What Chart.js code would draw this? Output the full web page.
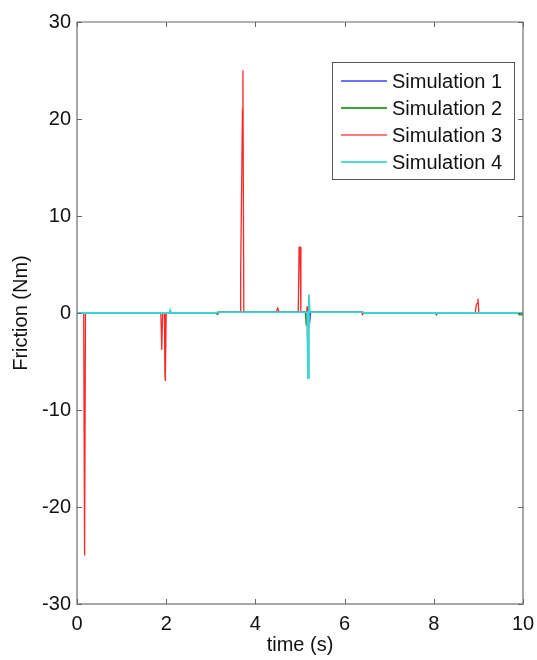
<!DOCTYPE html>
<html>
<head>
<meta charset="utf-8">
<script src="https://cdn.jsdelivr.net/npm/chart.js@4.4.0/dist/chart.umd.min.js"></script>
<style>
  html, body { margin: 0; padding: 0; background: #fff; }
  #wrap { width: 537px; height: 660px; position: relative; }
</style>
</head>
<body>
<div id="wrap"><canvas id="chart"></canvas></div>
<script>
// axis ticks
const xTicks = [0, 2, 4, 6, 8, 10];
const yTicks = [-30, -20, -10, 0, 10, 20, 30];

const seriesNames = ['Simulation 1', 'Simulation 2', 'Simulation 3', 'Simulation 4'];
const seriesColors = ['rgb(60,60,255)', 'rgb(20,140,20)', 'rgb(255,40,40)', 'rgb(60,212,212)'];
const legendColors = ['rgb(110,110,255)', 'rgb(60,160,60)', 'rgb(255,120,120)', 'rgb(80,220,220)'];

// Simulation 1 (blue)
const time1 = [0, 3.1, 3.2, 5.2, 5.22, 5.24, 6.4, 6.45, 10];
const friction1 = [0, 0, 0.1, 0.1, -0.8, 0.1, 0.1, 0, 0];

// Simulation 2 (green)
const time2 = [0, 3.1, 3.15, 3.2, 5.12, 5.14, 5.16, 6.4, 6.45, 8.03, 8.06, 8.09, 9.88, 9.92, 10];
const friction2 = [0, 0, -0.15, 0.1, 0.1, -1.3, 0.1, 0.1, 0, 0, -0.2, 0, 0, -0.2, -0.2];

// Simulation 3 (red)
const time3 = [0, 0.15, 0.17, 0.19, 1.88, 1.9, 1.92, 1.96, 1.97, 1.98, 2.0, 3.1, 3.2,
  3.66, 3.67, 3.69, 3.71, 3.72, 3.74, 4.47, 4.5, 4.53, 4.96, 4.98, 5.0, 5.02,
  5.15, 5.16, 5.17, 5.18, 6.38, 6.4, 6.42, 8.93, 8.95, 8.97, 8.99, 9.01, 10];
const friction3 = [0, 0, -25, 0, 0, -3.8, 0, 0, -6, -7, 0, 0, 0.1,
  0.1, 4.3, 12.5, 21, 25, 0.1, 0.1, 0.5, 0.1, 0.1, 6.8, 6.8, 0.1,
  0.1, 0.7, -2.8, 0.1, 0.1, -0.15, 0, 0, 0.8, 1.0, 1.5, 0, 0];

// Simulation 4 (cyan)
const time4 = [0, 2.07, 2.09, 2.11, 3.1, 3.2, 5.16, 5.18, 5.2, 5.22, 6.4, 6.45, 10];
const friction4 = [0, 0, 0.3, 0, 0, 0.1, 0.1, -6.7, 1.9, 0.1, 0.1, 0, 0];

const times = [time1, time2, time3, time4];
const values = [friction1, friction2, friction3, friction4];

const font = { family: '"Liberation Sans", Arial, sans-serif', size: 20 };

// box around the plot with inward ticks on all four sides
const frame = {
  id: 'frame',
  afterDatasetsDraw(chart) {
    const { ctx, chartArea: a, scales } = chart;
    const t = 5;
    ctx.save();
    ctx.lineWidth = 1.5;
    ctx.strokeStyle = '#8a8a8a';
    ctx.beginPath();
    ctx.moveTo(a.left, a.top); ctx.lineTo(a.left, a.bottom); ctx.lineTo(a.right, a.bottom); ctx.lineTo(a.right, a.top);
    ctx.stroke();
    ctx.strokeStyle = '#666';
    ctx.lineWidth = 1.2;
    ctx.beginPath();
    ctx.moveTo(a.left, a.top); ctx.lineTo(a.right, a.top);
    ctx.stroke();
    ctx.strokeStyle = '#666';
    ctx.lineWidth = 1;
    ctx.beginPath();
    xTicks.forEach(v => {
      const px = Math.round(scales.x.getPixelForValue(v)) + 0.5;
      ctx.moveTo(px, a.bottom); ctx.lineTo(px, a.bottom - t);
      ctx.moveTo(px, a.top); ctx.lineTo(px, a.top + t);
    });
    yTicks.forEach(v => {
      const py = Math.round(scales.y.getPixelForValue(v)) + 0.5;
      ctx.moveTo(a.left, py); ctx.lineTo(a.left + t, py);
      ctx.moveTo(a.right, py); ctx.lineTo(a.right - t, py);
    });
    ctx.stroke();
    ctx.restore();
  }
};

// matlab style legend inside the axes, top right
const legendBox = {
  id: 'legendBox',
  afterDraw(chart) {
    const { ctx, chartArea: a } = chart;
    const w = 182, rowH = 27.1, h = 117;
    const x0 = a.right - 9 - w, y0 = a.top + 40;
    ctx.save();
    ctx.fillStyle = '#fff';
    ctx.fillRect(x0, y0, w, h);
    ctx.strokeStyle = '#555';
    ctx.lineWidth = 1;
    ctx.strokeRect(x0 + 0.5, y0 + 0.5, w, h);
    ctx.font = font.size + 'px ' + font.family;
    ctx.textBaseline = 'middle';
    seriesNames.forEach((name, i) => {
      const y = y0 + 19 + i * rowH;
      ctx.strokeStyle = legendColors[i];
      ctx.lineWidth = 2;
      ctx.beginPath();
      ctx.moveTo(x0 + 9, Math.round(y));
      ctx.lineTo(x0 + 55, Math.round(y));
      ctx.stroke();
      ctx.fillStyle = '#111';
      ctx.fillText(name, x0 + 60, y + 1);
    });
    ctx.restore();
  }
};

new Chart(document.getElementById('chart'), {
  type: 'line',
  data: {
    datasets: seriesNames.map((name, i) => ({
      label: name,
      data: times[i].map((t, j) => ({ x: t, y: values[i][j] })),
      borderColor: seriesColors[i],
      borderWidth: i === 3 ? 1.8 : 1.3,
      pointRadius: 0,
      tension: 0,
      fill: false,
      order: 4 - i
    }))
  },
  options: {
    responsive: true,
    maintainAspectRatio: false,
    animation: false,
    layout: { padding: { top: 22, right: 14, left: 0, bottom: 0 } },
    plugins: {
      legend: { display: false },
      tooltip: { enabled: false }
    },
    scales: {
      x: {
        type: 'linear',
        min: 0,
        max: 10,
        afterBuildTicks: s => { s.ticks = xTicks.map(v => ({ value: v })); },
        afterFit: s => { s.height = 56; s.paddingLeft = 0; s.paddingRight = 0; },
        grid: { display: false, drawTicks: false, tickLength: 0 },
        border: { display: false },
        ticks: { font: font, color: '#111', padding: 8, maxRotation: 0 },
        title: { display: true, text: 'time (s)', font: font, color: '#111', padding: { top: 0, bottom: 3 } }
      },
      y: {
        type: 'linear',
        min: -30,
        max: 30,
        afterBuildTicks: s => { s.ticks = yTicks.map(v => ({ value: v })); },
        afterFit: s => { s.width = 77; s.paddingTop = 0; s.paddingBottom = 0; },
        grid: { display: false, drawTicks: false, tickLength: 0 },
        border: { display: false },
        ticks: { font: font, color: '#111', padding: 6 },
        title: { display: true, text: 'Friction (Nm)', font: font, color: '#111', padding: { top: 9, bottom: 0 } }
      }
    }
  },
  plugins: [frame, legendBox]
});
</script>
</body>
</html>
